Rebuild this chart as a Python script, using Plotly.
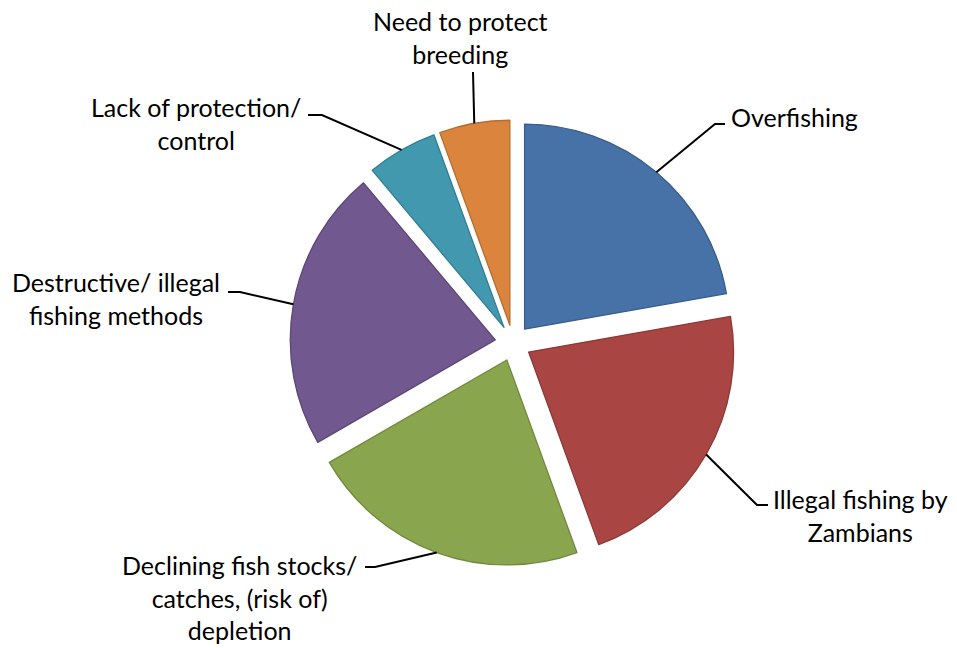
import math
import plotly.graph_objects as go

# ---- data ----
categories = [
    "Overfishing",
    "Illegal fishing by<br>Zambians",
    "Declining fish stocks/<br>catches, (risk of)<br>depletion",
    "Destructive/ illegal<br>fishing methods",
    "Lack of protection/<br>control",
    "Need to protect<br>breeding",
]
values = [4, 4, 4, 4, 1, 1]

fill_colors = ["#4672A7", "#A94643", "#89A54E", "#71588F", "#4198AF", "#DB843D"]
line_colors = ["#385D8A", "#8C3836", "#71893F", "#5C4776", "#357D91", "#B66D31"]

# ---- layout constants (pixels) ----
W, H = 957, 648
PULL = 0.088
CX, CY = 513, 343          # pie centre, pixels from top-left
SIZE = 446                 # pie domain box size in pixels
dom_x = [(CX - SIZE / 2) / W, (CX + SIZE / 2) / W]
dom_y = [1 - (CY + SIZE / 2) / H, 1 - (CY - SIZE / 2) / H]

# label centres and leader elbows / ends (pixels)
label_pos = [(794, 117), (860, 515), (239, 597), (116, 299), (196, 124), (460, 37)]
elbows = [(715, 124), (757, 505), (375, 567), (240, 292), (322, 115), (473, 72)]
ends = [(725, 124), (768, 505), (365, 567), (228, 292), (308, 115), (473, 72)]


def px(x, y):
    return x / W, 1 - y / H


fig = go.Figure(
    go.Pie(
        labels=categories,
        values=values,
        sort=False,
        direction="clockwise",
        rotation=0,
        pull=[PULL] * len(values),
        textinfo="none",
        hoverinfo="label+value",
        marker=dict(colors=fill_colors, line=dict(color=line_colors, width=1.3)),
        domain=dict(x=dom_x, y=dom_y),
        showlegend=False,
    )
)

# geometry of the pie as plotly computes it
r = SIZE / (2 + 2 * PULL)
total = sum(values)
cum = 0
shapes = []
annotations = []
for i, v in enumerate(values):
    theta = math.radians(360 * (cum + v / 2) / total)
    cum += v
    rr = r * (1 + PULL)
    ax_ = CX + rr * math.sin(theta)
    ay_ = CY - rr * math.cos(theta)
    p0 = px(ax_, ay_)
    p1 = px(*elbows[i])
    p2 = px(*ends[i])
    shapes.append(
        dict(
            type="path",
            xref="paper",
            yref="paper",
            path=f"M {p0[0]},{p0[1]} L {p1[0]},{p1[1]} L {p2[0]},{p2[1]}",
            line=dict(color="black", width=2),
        )
    )
    lx, ly = px(*label_pos[i])
    annotations.append(
        dict(
            text=categories[i],
            x=lx,
            y=ly,
            xref="paper",
            yref="paper",
            xanchor="center",
            yanchor="middle",
            align="center",
            showarrow=False,
            font=dict(family="Lato", size=25, color="black"),
        )
    )

fig.update_layout(
    width=W,
    height=H,
    margin=dict(l=0, r=0, t=0, b=0),
    paper_bgcolor="white",
    plot_bgcolor="white",
    shapes=shapes,
    annotations=annotations,
)

fig.write_html("out.html")
